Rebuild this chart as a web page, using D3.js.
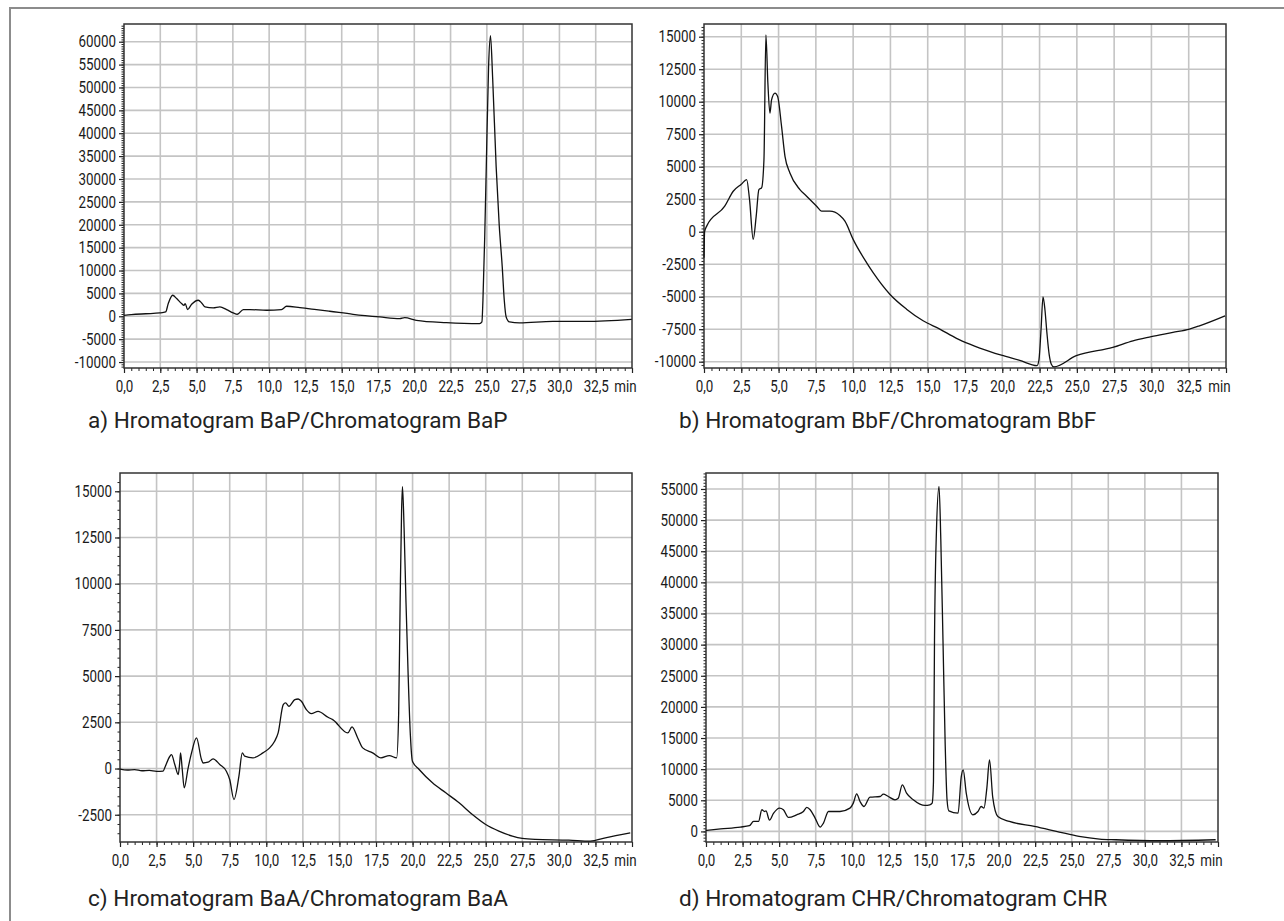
<!DOCTYPE html>
<html>
<head>
<meta charset="utf-8">
<script src="https://cdn.jsdelivr.net/npm/d3@7/dist/d3.min.js"></script>
<style>
  html, body { margin: 0; padding: 0; background: #fff; }
  svg { display: block; }
  .tick text, .unit { font-family: Roboto, 'Liberation Sans', sans-serif; font-size: 16.5px; fill: #1a1a1a; }
  .caption { font-family: Roboto, 'Noto Sans', sans-serif; fill: #222; }
</style>
</head>
<body>
<svg id="chart" width="1284" height="921"></svg>
<script>
// ---------- Data ----------
// x tick labels (minutes)
const xTickValues = [0, 2.5, 5, 7.5, 10, 12.5, 15, 17.5, 20, 22.5, 25, 27.5, 30, 32.5];
const xUnitLabel = "min";

// a) BaP
const bapTime   = [0, 0.5, 1.5, 2.47, 2.87, 3.05, 3.35, 3.63, 3.97, 4.13, 4.22, 4.38, 4.66, 5.12, 5.35, 5.58, 6.15, 6.61, 7.07, 7.53, 7.81, 8.22, 8.68, 9.82, 10.85, 11.2, 12.12, 13.26, 14.17, 15.78, 17.62, 18.99, 19.34, 20.14, 22.21, 24.5, 24.66, 24.73, 24.85, 24.96, 25.12, 25.25, 25.4, 25.64, 25.85, 26.06, 26.2, 26.33, 26.56, 27.25, 29.55, 31.84, 34.98];
const bapSignal = [200, 350, 550, 730, 950, 2780, 4600, 3870, 2780, 2410, 2780, 1460, 2630, 3510, 2920, 2050, 1830, 2050, 1460, 730, 440, 1460, 1460, 1320, 1460, 2190, 1900, 1460, 1100, 440, -150, -510, -290, -880, -1390, -1610, -1240, 3500, 17000, 32700, 54700, 61300, 52000, 32700, 20000, 10800, 3500, -150, -1240, -1460, -1100, -1100, -660];
const bapYTicks = [-10000, -5000, 0, 5000, 10000, 15000, 20000, 25000, 30000, 35000, 40000, 45000, 50000, 55000, 60000];

// b) BbF
const bbfTime   = [0, 0.04, 0.18, 1.39, 1.96, 2.5, 2.86, 3.05, 3.3, 3.5, 3.68, 3.86, 4.02, 4.15, 4.28, 4.42, 4.53, 4.76, 4.94, 5.2, 5.43, 5.76, 6.43, 6.88, 7.55, 7.88, 8.44, 9.11, 9.45, 10.0, 10.9, 11.34, 12.46, 13.58, 14.69, 15.81, 16.93, 17.82, 18.49, 19.94, 21.17, 22.33, 22.46, 22.6, 22.73, 22.86, 22.99, 23.15, 23.28, 23.46, 24.96, 27.41, 28.76, 29.99, 31.44, 32.55, 33.22, 34.94];
const bbfSignal = [-2000, 0, 430, 1960, 3110, 3650, 4010, 2500, -590, 1200, 3240, 3370, 5540, 15130, 11500, 9120, 10140, 10660, 10400, 8100, 5800, 4520, 3240, 2730, 1960, 1580, 1580, 1250, 810, -590, -2380, -3150, -4810, -5960, -6850, -7490, -8200, -8650, -8950, -9500, -9900, -10300, -9850, -7500, -5010, -6000, -7750, -9500, -10170, -10400, -9540, -8900, -8390, -8080, -7750, -7490, -7240, -6470];
const bbfYTicks = [-10000, -7500, -5000, -2500, 0, 2500, 5000, 7500, 10000, 12500, 15000];

// c) BaA
const baaTime   = [0, 0.5, 1.0, 1.5, 2.0, 2.5, 2.95, 3.06, 3.41, 3.52, 3.75, 3.98, 4.08, 4.14, 4.25, 4.39, 4.65, 4.89, 5.23, 5.57, 5.68, 6.02, 6.36, 6.82, 7.27, 7.5, 7.79, 8.13, 8.36, 8.52, 9.09, 9.77, 10.23, 10.57, 10.81, 11.16, 11.32, 11.55, 11.95, 12.18, 12.4, 12.74, 13.08, 13.54, 14.22, 14.54, 15.57, 15.86, 16.25, 16.59, 17.27, 17.84, 18.41, 18.91, 19.05, 19.15, 19.25, 19.31, 19.42, 19.55, 19.7, 19.85, 19.99, 20.45, 21.36, 22.27, 23.18, 24.09, 25.0, 25.9, 26.82, 27.5, 28.4, 30.68, 32.15, 33.18, 34.88];
const baaSignal = [-30, -80, -60, -120, -100, -150, -140, 40, 665, 755, 200, -324, 300, 846, 0, -1045, 0, 846, 1655, 486, 300, 340, 522, 216, -144, -594, -1676, -414, 846, 666, 576, 846, 1116, 1476, 1926, 3457, 3547, 3367, 3727, 3763, 3637, 3187, 2970, 3097, 2773, 2647, 1926, 2250, 1655, 1116, 846, 576, 702, 576, 3000, 9000, 14000, 15250, 13000, 9000, 5000, 1800, 396, -54, -774, -1315, -1855, -2486, -3026, -3386, -3656, -3782, -3836, -3872, -3926, -3746, -3476];
const baaYTicks = [-2500, 0, 2500, 5000, 7500, 10000, 12500, 15000];

// d) CHR
const chrTime   = [0, 1.0, 2.34, 2.97, 3.25, 3.59, 3.82, 4.0, 4.1, 4.34, 4.61, 5.02, 5.29, 5.64, 6.2, 6.66, 6.89, 7.12, 7.46, 7.8, 8.03, 8.37, 9.16, 9.84, 10.07, 10.3, 10.53, 10.8, 11.21, 11.9, 12.12, 12.46, 12.92, 13.14, 13.42, 13.71, 14.17, 14.62, 14.96, 15.3, 15.46, 15.55, 15.62, 15.75, 15.93, 16.05, 16.2, 16.35, 16.48, 16.6, 17.23, 17.45, 17.58, 17.79, 18.24, 18.59, 18.81, 19.0, 19.2, 19.38, 19.6, 19.95, 20.74, 22.45, 24.15, 25.5, 26.9, 28.0, 30.98, 34.84];
const chrSignal = [160, 400, 700, 920, 1600, 1600, 3480, 3200, 3300, 1820, 2890, 3740, 3480, 2240, 2670, 3200, 3850, 3480, 2140, 700, 1340, 3200, 3200, 3740, 4540, 6040, 4810, 4000, 5500, 5610, 5980, 5610, 5080, 5340, 7490, 6150, 5080, 4380, 4170, 4280, 4540, 8000, 30700, 48000, 55430, 47000, 30700, 14000, 5000, 3300, 2940, 8800, 9890, 6150, 2670, 3200, 4000, 3740, 7000, 11500, 5500, 2400, 1600, 800, -100, -800, -1230, -1340, -1500, -1340];
const chrYTicks = [0, 5000, 10000, 15000, 20000, 25000, 30000, 35000, 40000, 45000, 50000, 55000];

const captions = [
  "a) Hromatogram BaP/Chromatogram BaP",
  "b) Hromatogram BbF/Chromatogram BbF",
  "c) Hromatogram BaA/Chromatogram BaA",
  "d) Hromatogram CHR/Chromatogram CHR"
];

// ---------- Layout ----------
const panels = [
  { time: bapTime, signal: bapSignal, yTicks: bapYTicks, yMinor: 500, yDomain: [-11300, 63870], box: [124, 24, 632, 368], caption: captions[0], capX: 88, capY: 428 },
  { time: bbfTime, signal: bbfSignal, yTicks: bbfYTicks, yMinor: 250, yDomain: [-10485, 15977], box: [704, 24, 1226, 368], caption: captions[1], capX: 679, capY: 428 },
  { time: baaTime, signal: baaSignal, yTicks: baaYTicks, yMinor: 500, yDomain: [-3975, 15989], box: [120, 473, 632, 842], caption: captions[2], capX: 88, capY: 906 },
  { time: chrTime, signal: chrSignal, yTicks: chrYTicks, yMinor: 500, yDomain: [-1700, 57566], box: [706, 473, 1218, 842], caption: captions[3], capX: 679, capY: 906 }
];

const SX = 0.81; // horizontal condensing of tick label glyphs

const svg = d3.select("#chart");

// outer frame (open to right/bottom like the cropped reference)
svg.append("path")
  .attr("d", "M10,921 L10,8 L1284,8")
  .attr("fill", "none").attr("stroke", "#8c8c8c").attr("stroke-width", 2);

const locale = d3.formatLocale({ decimal: ",", thousands: "", grouping: [3], currency: ["", ""], minus: "-" });
const fmtX = locale.format(".1f");
const fmtY = locale.format("d");

function condense(sel) {
  sel.selectAll("text").each(function () {
    const t = d3.select(this);
    const x = +(t.attr("x") || 0);
    t.attr("x", x / SX).attr("transform", `scale(${SX},1)`);
  });
}

panels.forEach(p => {
  const [x0, y0, x1, y1] = p.box;
  const x = d3.scaleLinear().domain([0, 35]).range([x0, x1]);
  const y = d3.scaleLinear().domain(p.yDomain).range([y1, y0]);
  const g = svg.append("g");

  // grid
  g.append("g").selectAll("line").data(xTickValues.slice(1)).join("line")
    .attr("x1", d => x(d)).attr("x2", d => x(d)).attr("y1", y0).attr("y2", y1)
    .attr("stroke", "#c4c4c4").attr("stroke-width", 1.6);
  g.append("g").selectAll("line").data(p.yTicks).join("line")
    .attr("x1", x0).attr("x2", x1).attr("y1", d => y(d)).attr("y2", d => y(d))
    .attr("stroke", "#c4c4c4").attr("stroke-width", 1.6);

  // minor ticks
  const yMinorVals = d3.range(Math.ceil(p.yDomain[0] / p.yMinor) * p.yMinor, p.yDomain[1], p.yMinor);
  g.append("g").attr("transform", `translate(${x0},0)`)
    .call(d3.axisLeft(y).tickValues(yMinorVals).tickSize(2.5).tickFormat(""))
    .call(s => s.select(".domain").remove())
    .call(s => s.selectAll("line").attr("stroke", "#222").attr("stroke-width", 1));
  const xMinorVals = d3.range(0, 35.01, 0.5);
  g.append("g").attr("transform", `translate(0,${y1})`)
    .call(d3.axisBottom(x).tickValues(xMinorVals).tickSize(3).tickFormat(""))
    .call(s => s.select(".domain").remove())
    .call(s => s.selectAll("line").attr("stroke", "#222").attr("stroke-width", 1));

  // major axes
  g.append("g").attr("transform", `translate(${x0},0)`)
    .call(d3.axisLeft(y).tickValues(p.yTicks).tickSize(5).tickPadding(3).tickFormat(fmtY))
    .call(s => s.select(".domain").remove())
    .call(s => s.selectAll("line").attr("stroke", "#222").attr("stroke-width", 1.2))
    .call(condense);
  g.append("g").attr("transform", `translate(0,${y1})`)
    .call(d3.axisBottom(x).tickValues(xTickValues.concat([35])).tickSize(5).tickPadding(7)
      .tickFormat(d => d === 35 ? "" : fmtX(d)))
    .call(s => s.select(".domain").remove())
    .call(s => s.selectAll("line").attr("stroke", "#222").attr("stroke-width", 1.2))
    .call(condense);

  // unit label
  g.append("text").attr("class", "unit")
    .attr("x", (x(35) - 6.5) / SX).attr("y", y1 + 24)
    .attr("transform", `scale(${SX},1)`)
    .attr("text-anchor", "middle")
    .text(xUnitLabel);

  // frame
  g.append("rect").attr("x", x0).attr("y", y0).attr("width", x1 - x0).attr("height", y1 - y0)
    .attr("fill", "none").attr("stroke", "#333").attr("stroke-width", 1.5);

  // line
  const pts = p.time.map((t, i) => [t, p.signal[i]]);
  g.append("path").datum(pts)
    .attr("d", d3.line().x(d => x(d[0])).y(d => y(d[1])).curve(d3.curveMonotoneX))
    .attr("fill", "none").attr("stroke", "#111").attr("stroke-width", 1.3)
    .attr("stroke-linejoin", "round");

  // caption
  svg.append("text").attr("class", "caption")
    .attr("x", p.capX).attr("y", p.capY)
    .style("font-size", "20px")
    .text(p.caption);
});

// fit caption size to reference width (c caption spans ~420px)
const capNodes = svg.selectAll("text.caption").nodes();
const w = capNodes[2].getComputedTextLength();
const fs = 20 * 420 / w;
svg.selectAll("text.caption").style("font-size", fs.toFixed(2) + "px");
</script>
</body>
</html>
